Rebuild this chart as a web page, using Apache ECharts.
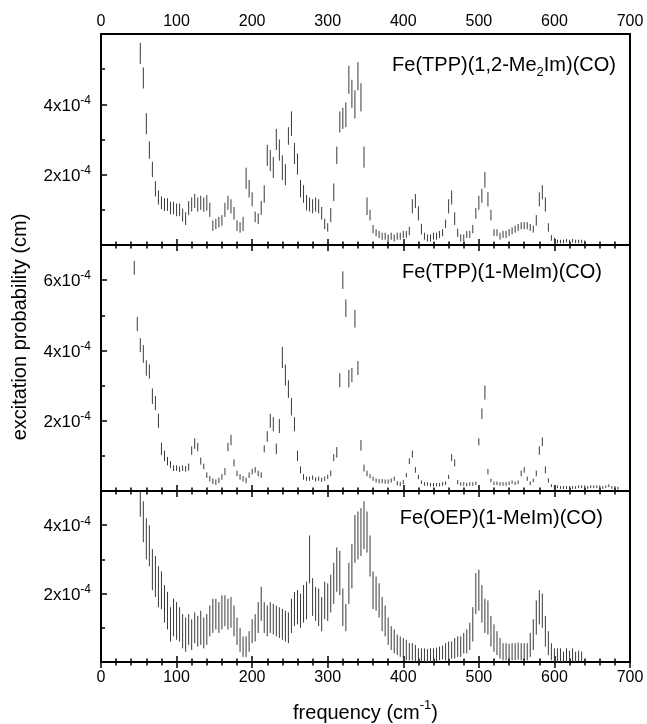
<!DOCTYPE html>
<html>
<head>
<meta charset="utf-8">
<script src="https://cdn.jsdelivr.net/npm/echarts@6/dist/echarts.min.js"></script>
<style>
  html, body { margin: 0; padding: 0; background: #fff; }
  #main { width: 647px; height: 724px; }
</style>
</head>
<body>
<div id="main"></div>
<script>
/*
 * 数据：频率网格 (cm-1) 和三个样品的激发概率 (单位 1e-4 cm)，以及误差半宽
 */
var freq = [
  44, 48, 52, 56, 60, 64, 68, 72, 76, 80,
  84, 88, 92, 96, 100, 104, 108, 112, 116, 120,
  124, 128, 132, 136, 140, 144, 148, 152, 156, 160,
  164, 168, 172, 176, 180, 184, 188, 192, 196, 200,
  204, 208, 212, 216, 220, 224, 228, 232, 236, 240,
  244, 248, 252, 256, 260, 264, 268, 272, 276, 280,
  284, 288, 292, 296, 300, 304, 308, 312, 316, 320,
  324, 328, 332, 336, 340, 344, 348, 352, 356, 360,
  364, 368, 372, 376, 380, 384, 388, 392, 396, 400,
  404, 408, 412, 416, 420, 424, 428, 432, 436, 440,
  444, 448, 452, 456, 460, 464, 468, 472, 476, 480,
  484, 488, 492, 496, 500, 504, 508, 512, 516, 520,
  524, 528, 532, 536, 540, 544, 548, 552, 556, 560,
  564, 568, 572, 576, 580, 584, 588, 592, 596, 600,
  604, 608, 612, 616, 620, 624, 628, 632, 636, 640,
  644, 648, 652, 656, 660, 664, 668, 672, 676, 680,
  684, 688, 692
];

// Fe(TPP)(1,2-Me2Im)(CO)
var probTop = [
  null, null, 5.45, 4.75, 3.45, 2.7, 2.15, 1.6, 1.35, 1.2,
  1.15, 1.15, 1.05, 1.05, 1.0, 1.0, 0.85, 0.75, 1.05, 1.15,
  1.25, 1.15, 1.2, 1.15, 1.2, 1.0, 0.55, 0.6, 0.65, 0.7,
  1.0, 1.2, 1.1, 0.9, 0.55, 0.5, 0.6, 1.9, 1.6, 1.3,
  0.8, 0.75, 1.05, 1.45, 2.55, 2.4, 2.2, 3.0, 2.7, 2.2,
  2.0, 3.1, 3.45, 2.6, 2.3, 1.6, 1.45, 1.2, 1.15, 1.1,
  1.15, 1.1, 0.9, 0.6, 0.5, 0.85, 1.5, 2.55, 3.5, 3.6,
  3.7, 4.7, 4.3, 4.0, 4.8, 4.2, 2.5, 1.1, 0.85, 0.45,
  0.35, 0.3, 0.25, 0.25, 0.2, 0.25, 0.2, 0.25, 0.25, 0.3,
  0.3, 0.4, 1.1, 1.25, 0.9, 0.45, 0.25, 0.2, 0.2, 0.25,
  0.25, 0.3, 0.35, 0.6, 1.1, 1.35, 0.75, 0.35, 0.2, 0.2,
  0.3, 0.3, 0.45, 0.9, 1.2, 1.4, 1.85, 1.3, 0.85, 0.35,
  0.35, 0.25, 0.3, 0.3, 0.35, 0.4, 0.45, 0.5, 0.55, 0.55,
  0.55, 0.5, 0.45, 0.7, 1.3, 1.5, 1.15, 0.5, 0.2, 0.15,
  0.1, 0.1, 0.1, 0.12, 0.1, 0.12, 0.1, 0.1, 0.1, 0.08,
  null, null, null, null, null, null, null, null, null, null,
  null, null, null
];
var errTop = [
  null, null, 0.3, 0.3, 0.3, 0.25, 0.22, 0.22, 0.2, 0.18,
  0.18, 0.18, 0.18, 0.18, 0.18, 0.18, 0.18, 0.18, 0.2, 0.2,
  0.2, 0.2, 0.2, 0.2, 0.22, 0.2, 0.15, 0.15, 0.15, 0.15,
  0.2, 0.2, 0.2, 0.18, 0.15, 0.15, 0.2, 0.3, 0.25, 0.2,
  0.15, 0.15, 0.2, 0.25, 0.3, 0.3, 0.3, 0.3, 0.3, 0.35,
  0.3, 0.25, 0.35, 0.3, 0.3, 0.25, 0.25, 0.22, 0.2, 0.2,
  0.2, 0.2, 0.18, 0.15, 0.12, 0.2, 0.25, 0.25, 0.3, 0.3,
  0.35, 0.4, 0.4, 0.4, 0.4, 0.4, 0.3, 0.25, 0.15, 0.12,
  0.1, 0.1, 0.1, 0.1, 0.1, 0.1, 0.1, 0.1, 0.1, 0.1,
  0.1, 0.12, 0.2, 0.2, 0.2, 0.15, 0.1, 0.1, 0.1, 0.1,
  0.1, 0.1, 0.1, 0.12, 0.2, 0.2, 0.18, 0.12, 0.1, 0.1,
  0.1, 0.1, 0.12, 0.15, 0.2, 0.2, 0.22, 0.2, 0.15, 0.1,
  0.1, 0.1, 0.1, 0.1, 0.1, 0.1, 0.1, 0.1, 0.1, 0.1,
  0.1, 0.1, 0.1, 0.15, 0.2, 0.2, 0.2, 0.12, 0.08, 0.06,
  0.05, 0.05, 0.05, 0.05, 0.05, 0.05, 0.05, 0.05, 0.05, 0.05,
  null, null, null, null, null, null, null, null, null, null,
  null, null, null
];

// Fe(TPP)(1-MeIm)(CO)
var probMid = [
  6.35, 4.75, 4.15, 3.9, 3.5, 3.4, 2.7, 2.5, 2.0, 1.2,
  1.0, 0.85, 0.75, 0.65, 0.65, 0.62, 0.65, 0.63, 0.68, 1.15,
  1.35, 1.25, 0.85, 0.7, 0.45, 0.35, 0.28, 0.25, 0.3, 0.4,
  0.55, 1.25, 1.45, 0.8, 0.5, 0.4, 0.35, 0.3, 0.45, 0.55,
  0.6, 0.5, 0.45, 1.2, 1.55, 2.0, 1.9, 1.2, 1.85, 3.8,
  3.3, 2.9, 2.4, 1.9, 1.0, 0.6, 0.4, 0.35, 0.35, 0.38,
  0.33, 0.35, 0.32, 0.35, 0.4, 0.5, 0.95, 1.1, 3.15, 6.0,
  5.2, 3.2, 3.3, 4.9, 3.5, 1.3, 0.65, 0.5, 0.42, 0.35,
  0.3, 0.28, 0.28, 0.27, 0.27, 0.3, 0.35, 0.22, 0.2, 0.25,
  0.45, 0.85, 1.05, 0.6, 0.4, 0.25, 0.2, 0.2, 0.18, 0.18,
  0.18, 0.18, 0.2, 0.22, 0.4, 0.95, 0.8, 0.25, 0.2, 0.2,
  0.18, 0.2, 0.2, 0.22, 1.4, 2.2, 2.8, 0.55, 0.3, 0.22,
  0.22, 0.2, 0.2, 0.2, 0.22, 0.25, 0.22, 0.25, 0.5, 0.6,
  0.35, 0.22, 0.3, 0.5, 1.15, 1.4, 0.6, 0.3, 0.15, 0.12,
  0.12, 0.1, 0.1, 0.1, 0.1, 0.1, 0.1, 0.12, 0.12, 0.12,
  0.1, 0.12, 0.12, 0.12, 0.12, 0.1, 0.12, 0.15, 0.1, 0.1,
  0.08, null, null
];
var errMid = [
  0.2, 0.2, 0.2, 0.25, 0.22, 0.2, 0.22, 0.2, 0.2, 0.18,
  0.15, 0.12, 0.1, 0.08, 0.08, 0.08, 0.08, 0.08, 0.1, 0.12,
  0.15, 0.12, 0.1, 0.08, 0.08, 0.08, 0.08, 0.08, 0.08, 0.08,
  0.1, 0.12, 0.15, 0.1, 0.08, 0.08, 0.08, 0.08, 0.08, 0.08,
  0.08, 0.08, 0.08, 0.1, 0.15, 0.2, 0.2, 0.15, 0.2, 0.3,
  0.3, 0.25, 0.25, 0.2, 0.15, 0.1, 0.08, 0.06, 0.06, 0.06,
  0.06, 0.06, 0.06, 0.06, 0.06, 0.08, 0.1, 0.15, 0.2, 0.25,
  0.25, 0.25, 0.2, 0.25, 0.2, 0.15, 0.1, 0.08, 0.06, 0.06,
  0.06, 0.06, 0.06, 0.06, 0.06, 0.06, 0.06, 0.06, 0.06, 0.06,
  0.06, 0.08, 0.1, 0.08, 0.06, 0.05, 0.05, 0.05, 0.05, 0.05,
  0.05, 0.05, 0.05, 0.05, 0.06, 0.1, 0.1, 0.06, 0.05, 0.05,
  0.05, 0.05, 0.05, 0.05, 0.1, 0.15, 0.2, 0.08, 0.05, 0.05,
  0.05, 0.05, 0.05, 0.05, 0.05, 0.05, 0.05, 0.05, 0.08, 0.08,
  0.06, 0.05, 0.05, 0.08, 0.12, 0.12, 0.1, 0.06, 0.04, 0.04,
  0.04, 0.04, 0.04, 0.04, 0.04, 0.04, 0.04, 0.04, 0.04, 0.04,
  0.04, 0.04, 0.04, 0.04, 0.04, 0.04, 0.04, 0.04, 0.04, 0.04,
  0.04, null, null
];

// Fe(OEP)(1-MeIm)(CO)
var probBot = [
  null, null, 4.65, 4.1, 3.6, 3.4, 2.7, 2.5, 2.2, 2.1,
  1.7, 1.5, 1.1, 1.3, 1.2, 1.1, 0.9, 0.8, 0.95, 0.8,
  1.0, 0.9, 1.0, 0.85, 0.95, 1.2, 1.35, 1.4, 1.3, 1.45,
  1.5, 1.4, 1.45, 1.2, 0.9, 0.65, 0.45, 0.45, 0.6, 0.9,
  1.0, 1.3, 1.7, 1.3, 1.2, 1.3, 1.25, 1.2, 1.15, 1.1,
  1.05, 1.0, 1.35, 1.55, 1.6, 1.5, 1.7, 1.8, 3.0, 1.9,
  1.7, 1.6, 1.4, 1.8, 1.75, 2.0, 2.3, 2.7, 2.6, 1.6,
  1.3, 2.3, 2.8, 3.6, 3.7, 3.8, 4.0, 3.8, 3.1, 2.1,
  2.0, 1.8, 1.4, 1.2, 0.9, 0.7, 0.6, 0.5, 0.45, 0.4,
  0.35, 0.3, 0.3, 0.25, 0.2, 0.2, 0.2, 0.18, 0.2, 0.2,
  0.22, 0.25, 0.28, 0.3, 0.35, 0.35, 0.4, 0.45, 0.45, 0.55,
  0.6, 0.75, 1.1, 2.0, 2.1, 1.7, 1.35, 1.3, 0.9, 0.7,
  0.55, 0.4, 0.3, 0.3, 0.28, 0.3, 0.3, 0.32, 0.3, 0.3,
  0.3, 0.5, 0.8, 1.3, 1.6, 1.5, 0.9, 0.55, 0.3, 0.2,
  0.2, 0.2, 0.15, 0.2, 0.18, 0.2, 0.15, 0.18, 0.15, null,
  null, null, null, null, null, null, null, null, null, null,
  null, null, null
];
var errBot = [
  null, null, 0.4, 0.6, 0.6, 0.6, 0.6, 0.6, 0.6, 0.55,
  0.55, 0.55, 0.5, 0.55, 0.55, 0.5, 0.5, 0.5, 0.45, 0.45,
  0.45, 0.45, 0.5, 0.45, 0.45, 0.45, 0.5, 0.45, 0.45, 0.5,
  0.45, 0.45, 0.45, 0.45, 0.4, 0.35, 0.3, 0.3, 0.3, 0.35,
  0.4, 0.45, 0.5, 0.45, 0.45, 0.45, 0.45, 0.45, 0.45, 0.45,
  0.45, 0.45, 0.5, 0.5, 0.5, 0.5, 0.55, 0.55, 0.7, 0.55,
  0.5, 0.55, 0.5, 0.55, 0.55, 0.55, 0.6, 0.65, 0.65, 0.55,
  0.4, 0.6, 0.65, 0.7, 0.7, 0.7, 0.7, 0.6, 0.6, 0.55,
  0.5, 0.5, 0.5, 0.45, 0.4, 0.35, 0.35, 0.3, 0.3, 0.3,
  0.3, 0.25, 0.25, 0.25, 0.2, 0.2, 0.2, 0.2, 0.2, 0.2,
  0.2, 0.2, 0.2, 0.25, 0.25, 0.25, 0.3, 0.3, 0.3, 0.3,
  0.35, 0.4, 0.5, 0.6, 0.6, 0.55, 0.5, 0.5, 0.45, 0.4,
  0.35, 0.3, 0.25, 0.25, 0.25, 0.25, 0.25, 0.25, 0.25, 0.25,
  0.25, 0.35, 0.45, 0.5, 0.5, 0.5, 0.45, 0.35, 0.25, 0.2,
  0.2, 0.2, 0.15, 0.2, 0.15, 0.2, 0.15, 0.15, 0.15, null,
  null, null, null, null, null, null, null, null, null, null,
  null, null, null
];

var xTicks = [0, 100, 200, 300, 400, 500, 600, 700];
var panelMax = [6, 7, 5];
var panelNames = ['Fe(TPP)(1,2-Me{sub|2}Im)(CO)', 'Fe(TPP)(1-MeIm)(CO)', 'Fe(OEP)(1-MeIm)(CO)'];

var FONT = '"Liberation Sans", Arial, Helvetica, sans-serif';

// 误差棒数据 [freq, low, high]
function makeBars(vals, errs) {
  var out = [];
  for (var i = 0; i < freq.length; i++) {
    if (vals[i] == null) continue;
    out.push([freq[i], vals[i] - errs[i], vals[i] + errs[i]]);
  }
  return out;
}

function renderBar(params, api) {
  var p1 = api.coord([api.value(0), api.value(1)]);
  var p2 = api.coord([api.value(0), api.value(2)]);
  return {
    type: 'line',
    shape: { x1: p1[0], y1: p1[1], x2: p2[0], y2: p2[1] },
    style: { stroke: '#3a3a3a', lineWidth: 1 }
  };
}

var grids = [
  { left: 101, right: 17, top: 34, height: 211 },
  { left: 101, right: 17, top: 245, height: 246 },
  { left: 101, right: 17, top: 491, height: 176 }
];

var xAxes = [], yAxes = [];
grids.forEach(function (g, i) {
  g.show = true;
  g.borderColor = '#000';
  g.borderWidth = 2;
  ['bottom', 'top'].forEach(function (pos) {
    var showLabel = (pos === 'top' && i === 0) || (pos === 'bottom' && i === 2);
    var ax = {
      type: 'value', gridIndex: i, position: pos,
      min: xTicks[0], max: xTicks[xTicks.length - 1], interval: 100,
      axisLine: { show: false },
      axisTick: { show: true, inside: true, length: 6, lineStyle: { color: '#000', width: 1.5 } },
      minorTick: { show: true, splitNumber: 5, length: 3.5, lineStyle: { color: '#000', width: 1.5 } },
      splitLine: { show: false },
      axisLabel: { show: showLabel, color: '#000', fontSize: 16, fontFamily: FONT, margin: pos === 'top' ? 4 : 8 }
    };
    if (pos === 'bottom' && i === 2) {
      ax.name = '{t|frequency (cm}{s|-1}{t|)}';
      ax.nameLocation = 'middle';
      ax.nameGap = 37;
      ax.nameTextStyle = {
        rich: {
          t: { fontSize: 20, fontFamily: FONT, color: '#000', lineHeight: 24, verticalAlign: 'bottom' },
          s: { fontSize: 13, fontFamily: FONT, color: '#000', lineHeight: 14, verticalAlign: 'top' }
        }
      };
    }
    xAxes.push(ax);
  });
  var max = panelMax[i];
  yAxes.push({
    type: 'value', gridIndex: i, position: 'left', min: 0, max: max, interval: 2,
    axisLine: { show: false },
    axisTick: { show: true, inside: true, length: 6, lineStyle: { color: '#000', width: 1.5 } },
    splitLine: { show: false },
    axisLabel: {
      margin: 10,
      formatter: function (v) {
        if (v === 0 || v === max || v % 2) return '';
        return '{m|' + v + 'x10}{s|-4}';
      },
      rich: {
        m: { fontSize: 17, fontFamily: FONT, color: '#000', lineHeight: 20, verticalAlign: 'bottom' },
        s: { fontSize: 12, fontFamily: FONT, color: '#000', lineHeight: 12, verticalAlign: 'top' }
      }
    }
  });
  yAxes.push({
    type: 'value', gridIndex: i, position: 'left', min: 0, max: max, interval: 1,
    axisLine: { show: false },
    axisTick: { show: true, inside: true, length: 4, lineStyle: { color: '#000', width: 1.5 } },
    splitLine: { show: false },
    axisLabel: { show: false }
  });
});

var seriesData = [makeBars(probTop, errTop), makeBars(probMid, errMid), makeBars(probBot, errBot)];
var series = seriesData.map(function (d, i) {
  return {
    type: 'custom', xAxisIndex: i * 2, yAxisIndex: i * 2,
    renderItem: renderBar, clip: true,
    encode: { x: 0, y: [1, 2] },
    data: d, silent: true, animation: false
  };
});

var labelPos = [[616, 67], [602, 274], [603, 520]];
var graphics = panelNames.map(function (name, i) {
  return {
    type: 'text', x: labelPos[i][0], y: labelPos[i][1],
    style: {
      text: '{n|' + name.replace('{sub|2}', '}{sub|2}{n|') + '}',
      align: 'right', verticalAlign: 'middle',
      rich: {
        n: { fontSize: 20, fontFamily: FONT, fill: '#000', lineHeight: 24, verticalAlign: 'top' },
        sub: { fontSize: 13, fontFamily: FONT, fill: '#000', lineHeight: 14, verticalAlign: 'bottom' }
      }
    }
  };
});
graphics.push({
  type: 'text', x: 20, y: 327, rotation: Math.PI / 2,
  style: {
    text: 'excitation probability (cm)', fontSize: 20, fontFamily: FONT, fill: '#000',
    align: 'center', verticalAlign: 'middle'
  }
});

var chart = echarts.init(document.getElementById('main'));
chart.setOption({
  backgroundColor: '#fff',
  animation: false,
  grid: grids,
  xAxis: xAxes,
  yAxis: yAxes,
  series: series,
  graphic: graphics
});
</script>
</body>
</html>
